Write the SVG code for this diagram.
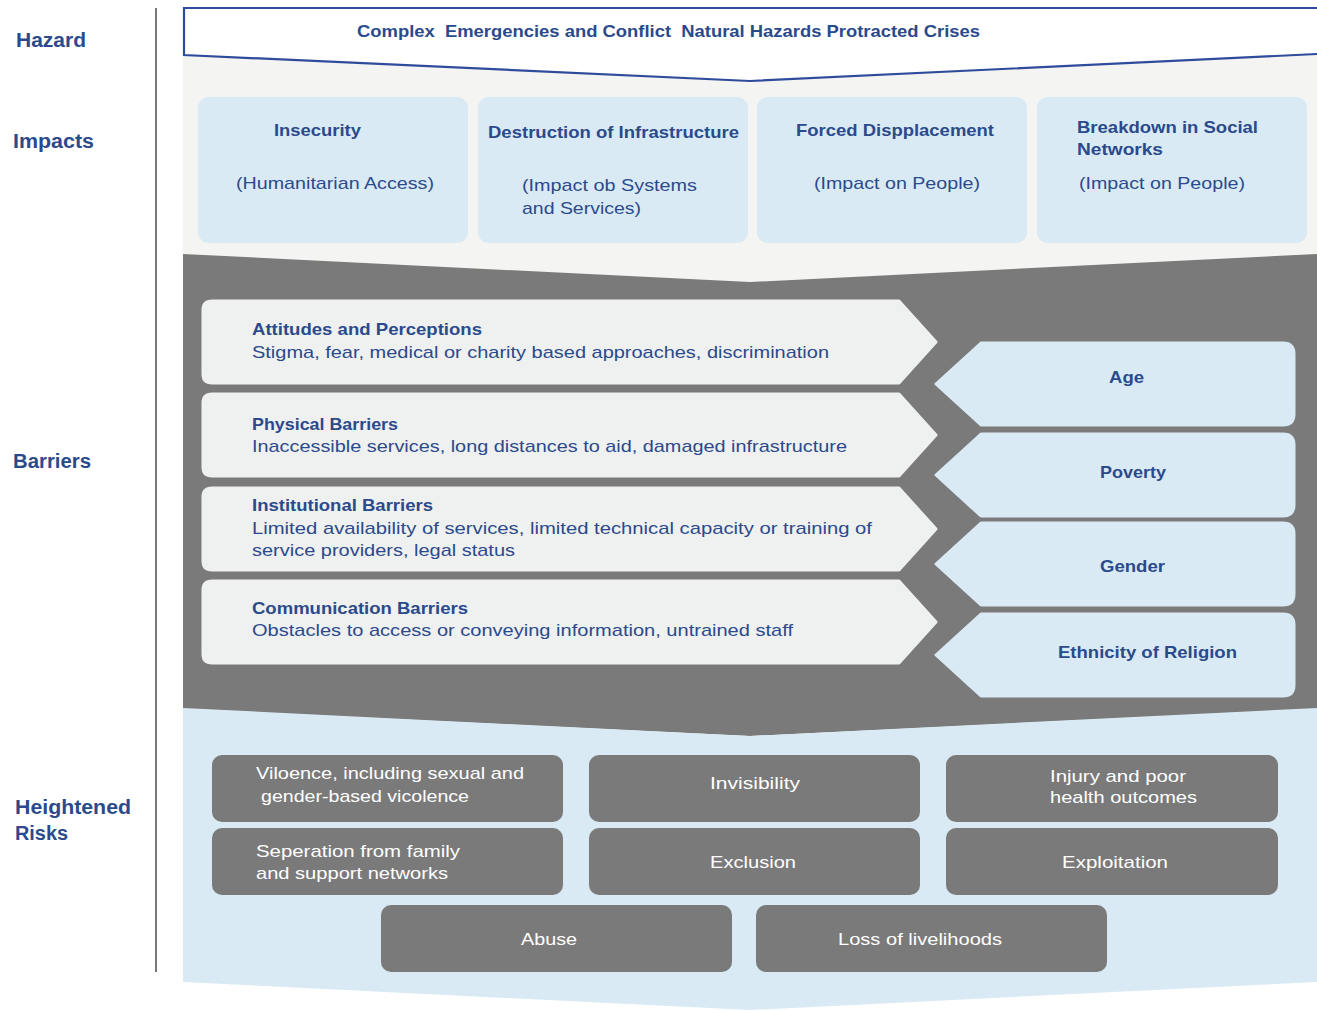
<svg xmlns="http://www.w3.org/2000/svg" width="1317" height="1011" viewBox="0 0 1317 1011">
<style>
.lbl{font-family:"Liberation Sans",Arial,sans-serif;font-weight:bold;font-size:20px;fill:#2b4a8c}
.t{font-family:"Liberation Sans",Arial,sans-serif;font-weight:bold;font-size:17px;fill:#2b4a8c}
.d{font-family:"Liberation Sans",Arial,sans-serif;font-size:17px;fill:#2b4a8c}
.w{font-family:"Liberation Sans",Arial,sans-serif;font-size:17px;fill:#ffffff}
.imp{fill:#d9eaf5}
.bar{fill:#eff0f0;stroke:#eff0f0;stroke-width:3;stroke-linejoin:round}
.fac{fill:#d9eaf5;stroke:#d9eaf5;stroke-width:3;stroke-linejoin:round}
.risk{fill:#7a7a7a}
</style>
<rect x="0" y="0" width="1317" height="1011" fill="#ffffff"/>
<g id="axis">
<line x1="156" y1="8" x2="156" y2="972" stroke="#7a7a7a" stroke-width="2"/>
<text class="lbl" x="16" y="47" textLength="70" lengthAdjust="spacingAndGlyphs">Hazard</text>
<text class="lbl" x="13" y="148" textLength="81" lengthAdjust="spacingAndGlyphs">Impacts</text>
<text class="lbl" x="13" y="468" textLength="78" lengthAdjust="spacingAndGlyphs">Barriers</text>
<text class="lbl" x="15" y="814" textLength="116" lengthAdjust="spacingAndGlyphs">Heightened</text>
<text class="lbl" x="15" y="840" textLength="53" lengthAdjust="spacingAndGlyphs">Risks</text>
</g>
<g id="bands">
<polygon points="183,54 750,81 1317,54 1317,255 750,282 183,255" fill="#f4f4f3"/>
<polygon points="183,254 750,282 1317,254 1317,709 750,736 183,709" fill="#7a7a7a"/>
<polygon points="183,708 750,736 1317,708 1317,982 750,1010 183,982" fill="#d9eaf5"/>
</g>
<g id="hazard">
<polygon points="183,8 1317,8 1317,54 750,81 183,55" fill="#ffffff"/>
<path d="M1317,8 H184 V55 L750,81 L1317,54" fill="none" stroke="#2e4c9b" stroke-width="2.2"/>
<text class="t" x="357" y="37" xml:space="preserve" style="white-space:pre" textLength="623" lengthAdjust="spacingAndGlyphs">Complex  Emergencies and Conflict  Natural Hazards Protracted Crises</text>
</g>
<g id="impact-insecurity">
<rect class="imp" x="198" y="97" width="270" height="146" rx="11"/>
<text class="t" x="274" y="136" textLength="87" lengthAdjust="spacingAndGlyphs">Insecurity</text>
<text class="d" x="236" y="189" textLength="198" lengthAdjust="spacingAndGlyphs">(Humanitarian Access)</text>
</g>
<g id="impact-infrastructure">
<rect class="imp" x="478" y="97" width="270" height="146" rx="11"/>
<text class="t" x="488" y="138" textLength="251" lengthAdjust="spacingAndGlyphs">Destruction of Infrastructure</text>
<text class="d" x="522" y="191" textLength="175" lengthAdjust="spacingAndGlyphs">(Impact ob Systems</text>
<text class="d" x="522" y="214" textLength="119" lengthAdjust="spacingAndGlyphs">and Services)</text>
</g>
<g id="impact-displacement">
<rect class="imp" x="757" y="97" width="270" height="146" rx="11"/>
<text class="t" x="796" y="136" textLength="198" lengthAdjust="spacingAndGlyphs">Forced Dispplacement</text>
<text class="d" x="814" y="189" textLength="166" lengthAdjust="spacingAndGlyphs">(Impact on People)</text>
</g>
<g id="impact-social">
<rect class="imp" x="1037" y="97" width="270" height="146" rx="11"/>
<text class="t" x="1077" y="133" textLength="181" lengthAdjust="spacingAndGlyphs">Breakdown in Social</text>
<text class="t" x="1077" y="155" textLength="86" lengthAdjust="spacingAndGlyphs">Networks</text>
<text class="d" x="1079" y="189" textLength="166" lengthAdjust="spacingAndGlyphs">(Impact on People)</text>
</g>
<g id="barrier-attitudes">
<path class="bar" d="M212,301 H899 L936,342 L899,383 H212 Q203,383 203,374 V310 Q203,301 212,301 Z"/>
<text class="t" x="252" y="335" textLength="230" lengthAdjust="spacingAndGlyphs">Attitudes and Perceptions</text>
<text class="d" x="252" y="358" textLength="577" lengthAdjust="spacingAndGlyphs">Stigma, fear, medical or charity based approaches, discrimination</text>
</g>
<g id="barrier-physical">
<path class="bar" d="M212,394 H899 L936,435 L899,476 H212 Q203,476 203,467 V403 Q203,394 212,394 Z"/>
<text class="t" x="252" y="430" textLength="146" lengthAdjust="spacingAndGlyphs">Physical Barriers</text>
<text class="d" x="252" y="452" textLength="595" lengthAdjust="spacingAndGlyphs">Inaccessible services, long distances to aid, damaged infrastructure</text>
</g>
<g id="barrier-institutional">
<path class="bar" d="M212,488 H899 L936,529 L899,570 H212 Q203,570 203,561 V497 Q203,488 212,488 Z"/>
<text class="t" x="252" y="511" textLength="181" lengthAdjust="spacingAndGlyphs">Institutional Barriers</text>
<text class="d" x="252" y="534" textLength="620" lengthAdjust="spacingAndGlyphs">Limited availability of services, limited technical capacity or training of</text>
<text class="d" x="252" y="556" textLength="263" lengthAdjust="spacingAndGlyphs">service providers, legal status</text>
</g>
<g id="barrier-communication">
<path class="bar" d="M212,581 H899 L936,622 L899,663 H212 Q203,663 203,654 V590 Q203,581 212,581 Z"/>
<text class="t" x="252" y="614" textLength="216" lengthAdjust="spacingAndGlyphs">Communication Barriers</text>
<text class="d" x="252" y="636" textLength="541" lengthAdjust="spacingAndGlyphs">Obstacles to access or conveying information, untrained staff</text>
</g>
<g id="factor-age">
<path class="fac" d="M981,343 H1283 Q1294,343 1294,354 V414 Q1294,425 1283,425 H981 L936,384 Z"/>
<text class="t" x="1109" y="383" textLength="35" lengthAdjust="spacingAndGlyphs">Age</text>
</g>
<g id="factor-poverty">
<path class="fac" d="M981,434 H1283 Q1294,434 1294,445 V505 Q1294,516 1283,516 H981 L936,475 Z"/>
<text class="t" x="1100" y="478" textLength="66" lengthAdjust="spacingAndGlyphs">Poverty</text>
</g>
<g id="factor-gender">
<path class="fac" d="M981,523 H1283 Q1294,523 1294,534 V594 Q1294,605 1283,605 H981 L936,564 Z"/>
<text class="t" x="1100" y="572" textLength="65" lengthAdjust="spacingAndGlyphs">Gender</text>
</g>
<g id="factor-ethnicity">
<path class="fac" d="M981,614 H1283 Q1294,614 1294,625 V685 Q1294,696 1283,696 H981 L936,655 Z"/>
<text class="t" x="1058" y="658" textLength="179" lengthAdjust="spacingAndGlyphs">Ethnicity of Religion</text>
</g>
<g id="risk-violence">
<rect class="risk" x="212" y="755" width="351" height="67" rx="10"/>
<text class="w" x="256" y="779" textLength="268" lengthAdjust="spacingAndGlyphs">Viloence, including sexual and</text>
<text class="w" x="261" y="802" textLength="208" lengthAdjust="spacingAndGlyphs">gender-based vicolence</text>
</g>
<g id="risk-invisibility">
<rect class="risk" x="589" y="755" width="331" height="67" rx="10"/>
<text class="w" x="710" y="789" textLength="90" lengthAdjust="spacingAndGlyphs">Invisibility</text>
</g>
<g id="risk-injury">
<rect class="risk" x="946" y="755" width="332" height="67" rx="10"/>
<text class="w" x="1050" y="782" textLength="136" lengthAdjust="spacingAndGlyphs">Injury and poor</text>
<text class="w" x="1050" y="803" textLength="147" lengthAdjust="spacingAndGlyphs">health outcomes</text>
</g>
<g id="risk-separation">
<rect class="risk" x="212" y="828" width="351" height="67" rx="10"/>
<text class="w" x="256" y="857" textLength="204" lengthAdjust="spacingAndGlyphs">Seperation from family</text>
<text class="w" x="256" y="879" textLength="192" lengthAdjust="spacingAndGlyphs">and support networks</text>
</g>
<g id="risk-exclusion">
<rect class="risk" x="589" y="828" width="331" height="67" rx="10"/>
<text class="w" x="710" y="868" textLength="86" lengthAdjust="spacingAndGlyphs">Exclusion</text>
</g>
<g id="risk-exploitation">
<rect class="risk" x="946" y="828" width="332" height="67" rx="10"/>
<text class="w" x="1062" y="868" textLength="106" lengthAdjust="spacingAndGlyphs">Exploitation</text>
</g>
<g id="risk-abuse">
<rect class="risk" x="381" y="905" width="351" height="67" rx="10"/>
<text class="w" x="521" y="945" textLength="56" lengthAdjust="spacingAndGlyphs">Abuse</text>
</g>
<g id="risk-livelihoods">
<rect class="risk" x="756" y="905" width="351" height="67" rx="10"/>
<text class="w" x="838" y="945" textLength="164" lengthAdjust="spacingAndGlyphs">Loss of livelihoods</text>
</g>
<g id="connectors"></g>
</svg>
